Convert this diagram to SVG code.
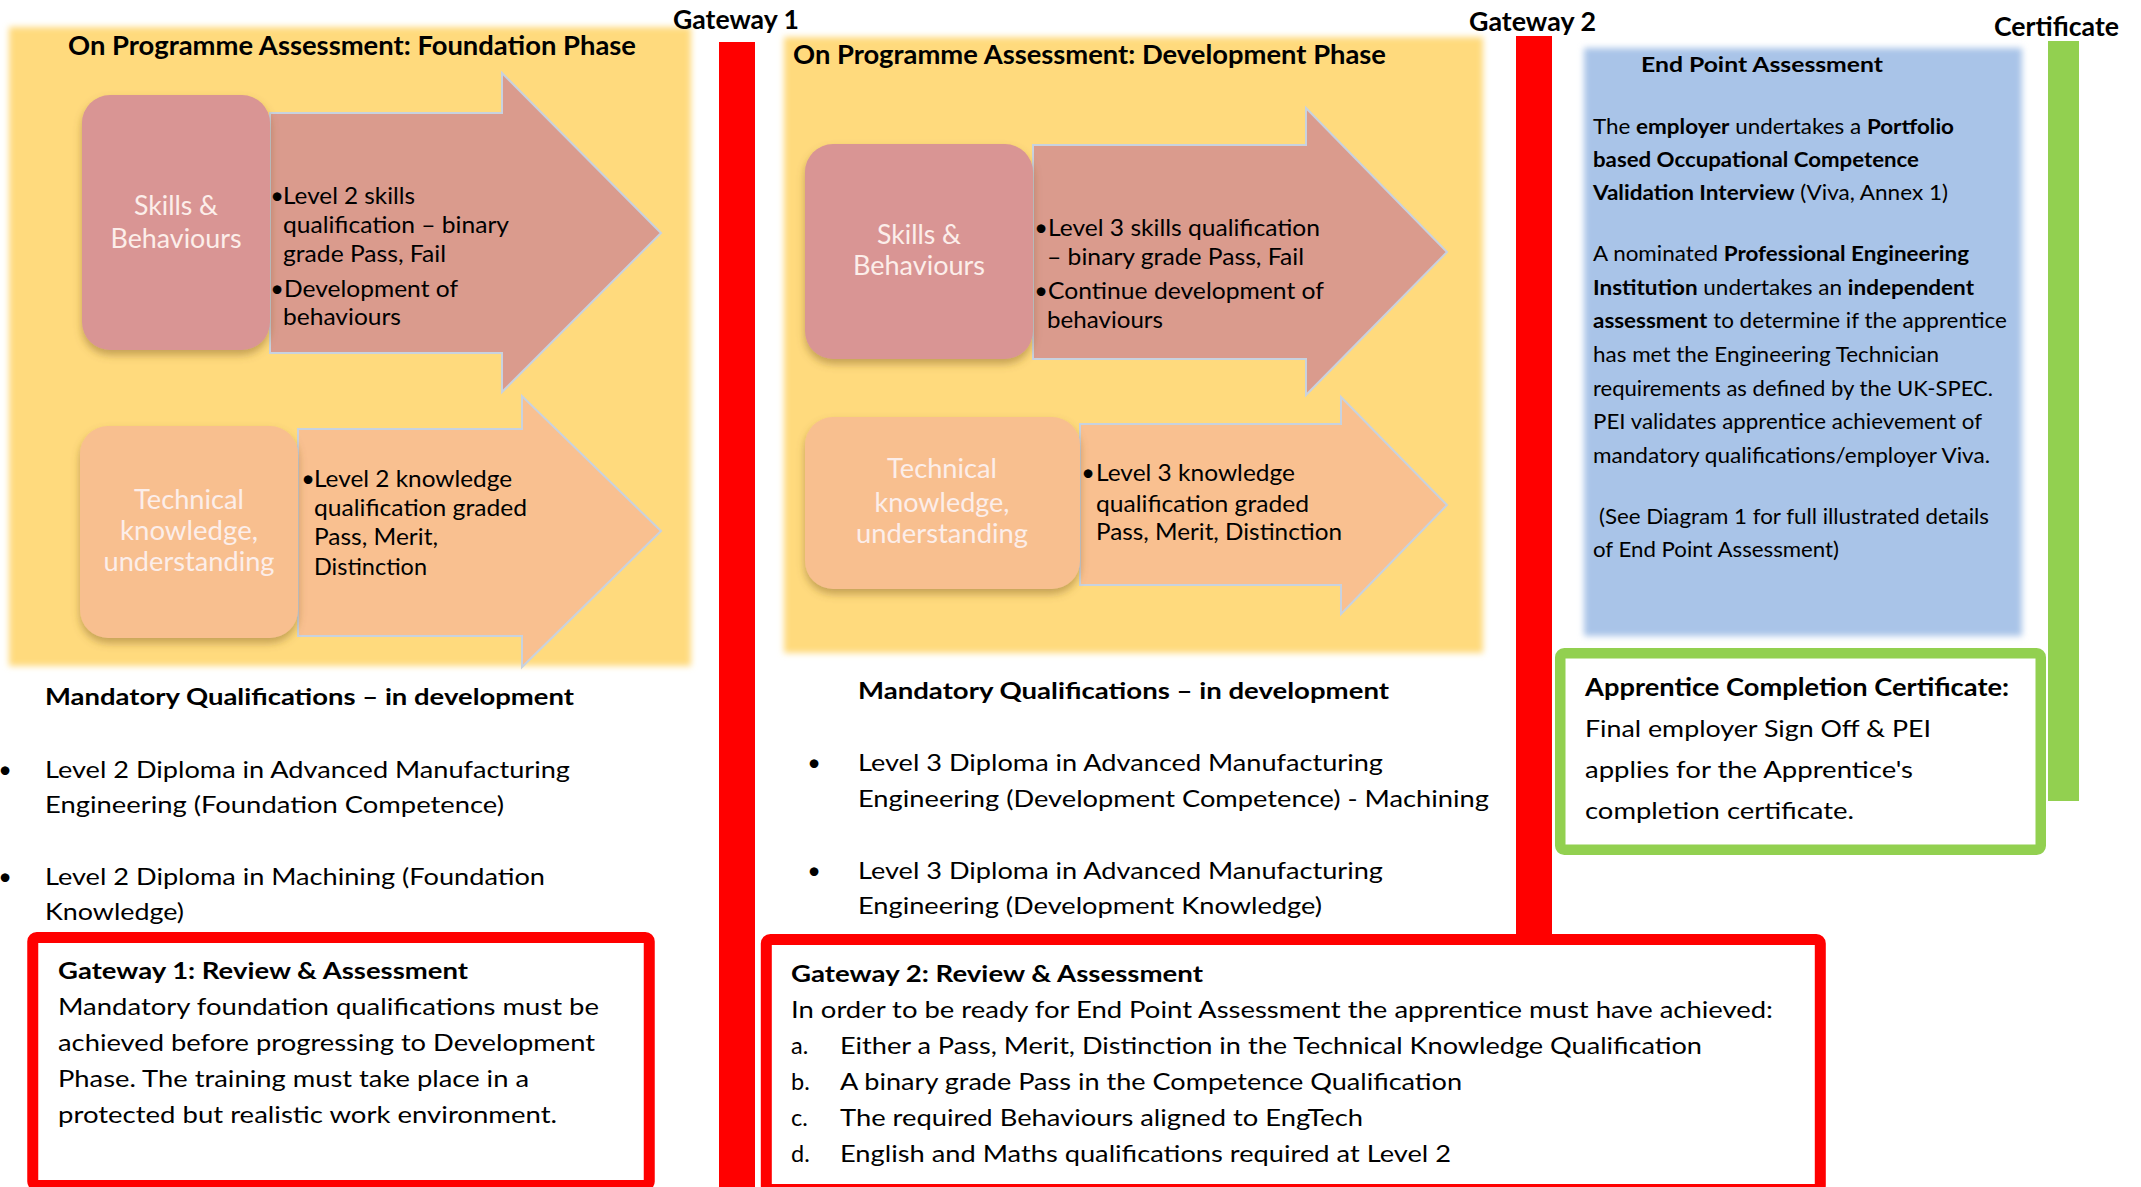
<svg xmlns="http://www.w3.org/2000/svg" width="2141" height="1187" viewBox="0 0 2141 1187">
<defs>
<style>
text{font-family:Lato,"Liberation Sans",sans-serif;fill:#000}
.bd{font-weight:700}
.hd{font-weight:700;font-size:26px}
.gw{font-weight:700;font-size:26px}
.t{font-size:23.5px}
.ep{font-size:21px}
.ct{font-size:24px}
.lab{font-size:27px;fill:#FCEEEA;text-anchor:middle}
.dot{text-anchor:middle}
.panel{fill:#FFDA7D}
.pink{fill:#D99594}
.pinkA{fill:#DA9B8D;stroke:#C8D2DF;stroke-width:2}
.peach{fill:#F8BF8F}
.peachA{fill:#F9C090;stroke:#C8D2DF;stroke-width:2}
.red{fill:#FF0000}
.green{fill:#92D050}
.redbox{fill:#FFFFFF;stroke:#FF0000;stroke-width:11}
.greenbox{fill:#FFFFFF;stroke:#92D050;stroke-width:10.5}
</style>
<filter id="soft" x="-5%" y="-5%" width="110%" height="110%">
<feGaussianBlur stdDeviation="3"/>
</filter>
<filter id="shadow" x="-10%" y="-10%" width="120%" height="130%">
<feDropShadow dx="0" dy="5" stdDeviation="4" flood-color="#7a5a20" flood-opacity="0.45"/>
</filter>
</defs>
<rect width="2141" height="1187" fill="#FFFFFF"/>

<g id="foundation-phase">
<rect class="panel" x="9" y="27" width="682" height="639" filter="url(#soft)"/>
<text class="hd" x="68" y="55" textLength="568" lengthAdjust="spacingAndGlyphs">On Programme Assessment: Foundation Phase</text>
</g>

<g id="development-phase">
<rect class="panel" x="784" y="37" width="699" height="616" filter="url(#soft)"/>
<text class="hd" x="793" y="64" textLength="593" lengthAdjust="spacingAndGlyphs">On Programme Assessment: Development Phase</text>
</g>

<g id="end-point-assessment">
<rect x="1584" y="48" width="438" height="588" fill="#A9C4E8" filter="url(#soft)"/>
<text class="bd ep" x="1641" y="72" textLength="242" lengthAdjust="spacingAndGlyphs">End Point Assessment</text>
<text class="ep" x="1593" y="134" textLength="361" lengthAdjust="spacingAndGlyphs">The <tspan class="bd">employer</tspan> undertakes a <tspan class="bd">Portfolio</tspan></text>
<text class="ep bd" x="1593" y="167" textLength="326" lengthAdjust="spacingAndGlyphs">based Occupational Competence</text>
<text class="ep" x="1593" y="200" textLength="355" lengthAdjust="spacingAndGlyphs"><tspan class="bd">Validation Interview</tspan> (Viva, Annex 1)</text>
<text class="ep" x="1593" y="261" textLength="376" lengthAdjust="spacingAndGlyphs">A nominated <tspan class="bd">Professional Engineering</tspan></text>
<text class="ep" x="1593" y="295" textLength="381" lengthAdjust="spacingAndGlyphs"><tspan class="bd">Institution</tspan> undertakes an <tspan class="bd">independent</tspan></text>
<text class="ep" x="1593" y="328" textLength="414" lengthAdjust="spacingAndGlyphs"><tspan class="bd">assessment</tspan> to determine if the apprentice</text>
<text class="ep" x="1593" y="362" textLength="346" lengthAdjust="spacingAndGlyphs">has met the Engineering Technician</text>
<text class="ep" x="1593" y="396" textLength="400" lengthAdjust="spacingAndGlyphs">requirements as defined by the UK-SPEC.</text>
<text class="ep" x="1593" y="429" textLength="389" lengthAdjust="spacingAndGlyphs">PEI validates apprentice achievement of</text>
<text class="ep" x="1593" y="463" textLength="397" lengthAdjust="spacingAndGlyphs">mandatory qualifications/employer Viva.</text>
<text class="ep" x="1599" y="524" textLength="390" lengthAdjust="spacingAndGlyphs">(See Diagram 1 for full illustrated details</text>
<text class="ep" x="1593" y="557" textLength="246" lengthAdjust="spacingAndGlyphs">of End Point Assessment)</text>
</g>

<g id="connectors">
<g id="gateway-1-bar">
<rect class="red" x="719" y="42" width="36" height="1145"/>
<text class="gw" x="673" y="29" textLength="126" lengthAdjust="spacingAndGlyphs">Gateway 1</text>
</g>
<g id="gateway-2-bar">
<rect class="red" x="1516" y="36" width="36" height="900"/>
<text class="gw" x="1469" y="31" textLength="127" lengthAdjust="spacingAndGlyphs">Gateway 2</text>
</g>
<g id="certificate-bar">
<rect class="green" x="2048" y="41" width="31" height="760"/>
<text class="gw" x="1994" y="36" textLength="125" lengthAdjust="spacingAndGlyphs">Certificate</text>
</g>
</g>

<g id="arrow-f-skills">
<polygon class="pinkA" points="270,113 502,113 502,73 661,233 502,392 502,353 270,353"/>
<text class="t dot" x="277" y="204">•</text>
<text class="t" x="283" y="204" textLength="132" lengthAdjust="spacingAndGlyphs">Level 2 skills</text>
<text class="t" x="283" y="233" textLength="226" lengthAdjust="spacingAndGlyphs">qualification – binary</text>
<text class="t" x="283" y="262" textLength="163" lengthAdjust="spacingAndGlyphs">grade Pass, Fail</text>
<text class="t dot" x="277" y="297">•</text>
<text class="t" x="284" y="297" textLength="174" lengthAdjust="spacingAndGlyphs">Development of</text>
<text class="t" x="283" y="325" textLength="118" lengthAdjust="spacingAndGlyphs">behaviours</text>
</g>
<g id="node-f-skills">
<rect class="pink" x="82" y="95" width="188" height="255" rx="28" filter="url(#shadow)"/>
<text class="lab" x="176" y="215" textLength="84" lengthAdjust="spacingAndGlyphs">Skills &amp;</text>
<text class="lab" x="176" y="248" textLength="131" lengthAdjust="spacingAndGlyphs">Behaviours</text>
</g>

<g id="arrow-f-knowledge">
<polygon class="peachA" points="298,429 522,429 522,396 661,531 522,667 522,636 298,636"/>
<text class="t dot" x="308" y="487">•</text>
<text class="t" x="314" y="487" textLength="198" lengthAdjust="spacingAndGlyphs">Level 2 knowledge</text>
<text class="t" x="314" y="516" textLength="213" lengthAdjust="spacingAndGlyphs">qualification graded</text>
<text class="t" x="314" y="545" textLength="124" lengthAdjust="spacingAndGlyphs">Pass, Merit,</text>
<text class="t" x="314" y="575" textLength="113" lengthAdjust="spacingAndGlyphs">Distinction</text>
</g>
<g id="node-f-knowledge">
<rect class="peach" x="80" y="426" width="218" height="212" rx="28" filter="url(#shadow)"/>
<text class="lab" x="189" y="509" textLength="110" lengthAdjust="spacingAndGlyphs">Technical</text>
<text class="lab" x="189" y="540" textLength="138" lengthAdjust="spacingAndGlyphs">knowledge,</text>
<text class="lab" x="189" y="571" textLength="171" lengthAdjust="spacingAndGlyphs">understanding</text>
</g>

<g id="arrow-d-skills">
<polygon class="pinkA" points="1033,145 1306,145 1306,108 1447,252 1306,395 1306,359 1033,359"/>
<text class="t dot" x="1041" y="236">•</text>
<text class="t" x="1048" y="236" textLength="272" lengthAdjust="spacingAndGlyphs">Level 3 skills qualification</text>
<text class="t" x="1047" y="265" textLength="257" lengthAdjust="spacingAndGlyphs">– binary grade Pass, Fail</text>
<text class="t dot" x="1041" y="299">•</text>
<text class="t" x="1048" y="299" textLength="276" lengthAdjust="spacingAndGlyphs">Continue development of</text>
<text class="t" x="1047" y="328" textLength="116" lengthAdjust="spacingAndGlyphs">behaviours</text>
</g>
<g id="node-d-skills">
<rect class="pink" x="805" y="144" width="228" height="215" rx="28" filter="url(#shadow)"/>
<text class="lab" x="919" y="244" textLength="84" lengthAdjust="spacingAndGlyphs">Skills &amp;</text>
<text class="lab" x="919" y="275" textLength="132" lengthAdjust="spacingAndGlyphs">Behaviours</text>
</g>

<g id="arrow-d-knowledge">
<polygon class="peachA" points="1080,424 1341,424 1341,397 1447,505 1341,614 1341,585 1080,585"/>
<text class="t dot" x="1088" y="481">•</text>
<text class="t" x="1096" y="481" textLength="199" lengthAdjust="spacingAndGlyphs">Level 3 knowledge</text>
<text class="t" x="1096" y="512" textLength="213" lengthAdjust="spacingAndGlyphs">qualification graded</text>
<text class="t" x="1096" y="540" textLength="246" lengthAdjust="spacingAndGlyphs">Pass, Merit, Distinction</text>
</g>
<g id="node-d-knowledge">
<rect class="peach" x="805" y="417" width="275" height="172" rx="28" filter="url(#shadow)"/>
<text class="lab" x="942" y="478" textLength="110" lengthAdjust="spacingAndGlyphs">Technical</text>
<text class="lab" x="942" y="512" textLength="135" lengthAdjust="spacingAndGlyphs">knowledge,</text>
<text class="lab" x="942" y="543" textLength="172" lengthAdjust="spacingAndGlyphs">understanding</text>
</g>

<g id="foundation-qualifications">
<text class="t bd" x="45" y="705" textLength="529" lengthAdjust="spacingAndGlyphs">Mandatory Qualifications – in development</text>
<text class="t dot" x="5" y="778">•</text>
<text class="t" x="45" y="778" textLength="525" lengthAdjust="spacingAndGlyphs">Level 2 Diploma in Advanced Manufacturing</text>
<text class="t" x="45" y="813" textLength="459" lengthAdjust="spacingAndGlyphs">Engineering (Foundation Competence)</text>
<text class="t dot" x="5" y="885">•</text>
<text class="t" x="45" y="885" textLength="500" lengthAdjust="spacingAndGlyphs">Level 2 Diploma in Machining (Foundation</text>
<text class="t" x="45" y="920" textLength="139" lengthAdjust="spacingAndGlyphs">Knowledge)</text>
</g>

<g id="development-qualifications">
<text class="t bd" x="858" y="699" textLength="531" lengthAdjust="spacingAndGlyphs">Mandatory Qualifications – in development</text>
<text class="t dot" x="814" y="771">•</text>
<text class="t" x="858" y="771" textLength="525" lengthAdjust="spacingAndGlyphs">Level 3 Diploma in Advanced Manufacturing</text>
<text class="t" x="858" y="807" textLength="631" lengthAdjust="spacingAndGlyphs">Engineering (Development Competence) - Machining</text>
<text class="t dot" x="814" y="879">•</text>
<text class="t" x="858" y="879" textLength="525" lengthAdjust="spacingAndGlyphs">Level 3 Diploma in Advanced Manufacturing</text>
<text class="t" x="858" y="914" textLength="464" lengthAdjust="spacingAndGlyphs">Engineering (Development Knowledge)</text>
</g>

<g id="certificate-box">
<rect class="greenbox" x="1560.25" y="653.25" width="480.5" height="196.5" rx="4"/>
<text class="ct bd" x="1585" y="696" textLength="424" lengthAdjust="spacingAndGlyphs">Apprentice Completion Certificate:</text>
<text class="ct" x="1585" y="737" textLength="346" lengthAdjust="spacingAndGlyphs">Final employer Sign Off &amp; PEI</text>
<text class="ct" x="1585" y="778" textLength="328" lengthAdjust="spacingAndGlyphs">applies for the Apprentice's</text>
<text class="ct" x="1585" y="819" textLength="269" lengthAdjust="spacingAndGlyphs">completion certificate.</text>
</g>

<g id="gateway-1-box">
<rect class="redbox" x="32.75" y="937.5" width="616.5" height="248" rx="4"/>
<text class="t bd" x="58" y="979" textLength="410" lengthAdjust="spacingAndGlyphs">Gateway 1: Review &amp; Assessment</text>
<text class="t" x="58" y="1015" textLength="541" lengthAdjust="spacingAndGlyphs">Mandatory foundation qualifications must be</text>
<text class="t" x="58" y="1051" textLength="537" lengthAdjust="spacingAndGlyphs">achieved before progressing to Development</text>
<text class="t" x="58" y="1087" textLength="471" lengthAdjust="spacingAndGlyphs">Phase. The training must take place in a</text>
<text class="t" x="58" y="1123" textLength="499" lengthAdjust="spacingAndGlyphs">protected but realistic work environment.</text>
</g>

<g id="gateway-2-box">
<rect class="redbox" x="766.3" y="939.5" width="1054" height="250" rx="4"/>
<text class="t bd" x="791" y="982" textLength="412" lengthAdjust="spacingAndGlyphs">Gateway 2: Review &amp; Assessment</text>
<text class="t" x="791" y="1018" textLength="982" lengthAdjust="spacingAndGlyphs">In order to be ready for End Point Assessment the apprentice must have achieved:</text>
<text class="t" x="791" y="1054">a.</text>
<text class="t" x="840" y="1054" textLength="862" lengthAdjust="spacingAndGlyphs">Either a Pass, Merit, Distinction in the Technical Knowledge Qualification</text>
<text class="t" x="791" y="1090">b.</text>
<text class="t" x="840" y="1090" textLength="622" lengthAdjust="spacingAndGlyphs">A binary grade Pass in the Competence Qualification</text>
<text class="t" x="791" y="1126">c.</text>
<text class="t" x="840" y="1126" textLength="523" lengthAdjust="spacingAndGlyphs">The required Behaviours aligned to EngTech</text>
<text class="t" x="791" y="1162">d.</text>
<text class="t" x="840" y="1162" textLength="611" lengthAdjust="spacingAndGlyphs">English and Maths qualifications required at Level 2</text>
</g>
</svg>
